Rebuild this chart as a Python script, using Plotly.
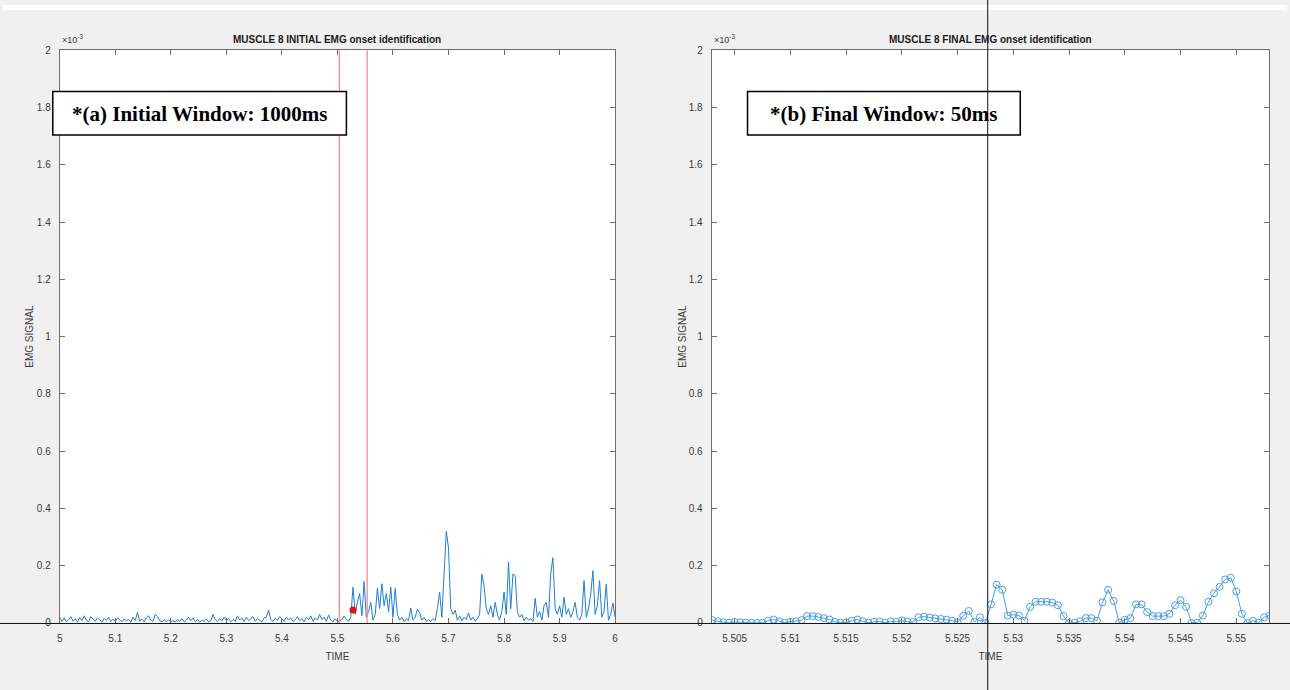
import numpy as np
import plotly.graph_objects as go

W, H = 1290, 690

# ---- initial 1000 ms window: EMG samples (units of 1e-3), step 0.004 s from 5.000 s ----
init_t0 = 5.0
init_dt = 0.004
init_emg = [
    # 5.0 - 5.1
    0.020, 0.005, 0.018, 0.004, 0.012, 0.022, 0.006, 0.015, 0.003, 0.019, 0.008, 0.025, 0.010,
    0.004, 0.022, 0.015, 0.006, 0.018, 0.012, 0.003, 0.016, 0.009, 0.020, 0.005, 0.014,
    # 5.1 - 5.2
    0.006, 0.018, 0.010, 0.004, 0.015, 0.007, 0.012, 0.003, 0.020, 0.009, 0.037, 0.006, 0.014,
    0.004, 0.018, 0.025, 0.010, 0.006, 0.030, 0.022, 0.008, 0.004, 0.012, 0.005, 0.010,
    # 5.2 - 5.3
    0.004, 0.009, 0.003, 0.012, 0.006, 0.015, 0.004, 0.010, 0.020, 0.008, 0.018, 0.005, 0.012,
    0.003, 0.009, 0.006, 0.014, 0.004, 0.008, 0.030, 0.012, 0.005, 0.016, 0.007, 0.020,
    # 5.3 - 5.4
    0.008, 0.015, 0.004, 0.012, 0.006, 0.025, 0.010, 0.018, 0.005, 0.020, 0.008, 0.014, 0.022,
    0.006, 0.015, 0.010, 0.004, 0.018, 0.020, 0.045, 0.012, 0.006, 0.016, 0.010, 0.022,
    # 5.4 - 5.5
    0.015, 0.006, 0.020, 0.010, 0.018, 0.005, 0.012, 0.022, 0.008, 0.016, 0.004, 0.020, 0.012,
    0.025, 0.006, 0.018, 0.010, 0.030, 0.012, 0.020, 0.006, 0.028, 0.010, 0.004, 0.015,
    # 5.5 - 5.6
    0.005, 0.008, 0.012, 0.024, 0.012, 0.006, 0.020, 0.125, 0.030, 0.074, 0.103, 0.025, 0.145,
    0.020, 0.040, 0.072, 0.010, 0.030, 0.121, 0.050, 0.137, 0.060, 0.103, 0.040, 0.125,
    # 5.6 - 5.7
    0.020, 0.121, 0.030, 0.010, 0.020, 0.005, 0.015, 0.008, 0.052, 0.010, 0.020, 0.048, 0.035,
    0.010, 0.020, 0.006, 0.012, 0.005, 0.015, 0.008, 0.050, 0.108, 0.020, 0.200, 0.320,
    # 5.7 - 5.8
    0.262, 0.050, 0.030, 0.045, 0.010, 0.025, 0.008, 0.020, 0.012, 0.035, 0.010, 0.020, 0.006,
    0.015, 0.030, 0.171, 0.130, 0.050, 0.030, 0.060, 0.020, 0.072, 0.030, 0.010, 0.040,
    # 5.8 - 5.9
    0.108, 0.030, 0.213, 0.050, 0.171, 0.165, 0.040, 0.020, 0.030, 0.008, 0.020, 0.010, 0.015,
    0.005, 0.086, 0.020, 0.040, 0.010, 0.060, 0.072, 0.020, 0.171, 0.228, 0.050, 0.030,
    # 5.9 - 6.0
    0.060, 0.020, 0.090, 0.030, 0.050, 0.020, 0.040, 0.072, 0.020, 0.010, 0.030, 0.148, 0.020,
    0.050, 0.100, 0.183, 0.030, 0.060, 0.148, 0.020, 0.040, 0.136, 0.010, 0.030, 0.070,
    # 6.0
    0.020,
]
init_time = [init_t0 + i * init_dt for i in range(len(init_emg))]

# window limits and onset estimate from the initial pass
window_edges = [5.5035, 5.5535]
onset_time = [5.528]
onset_emg = [0.045]

# ---- final 50 ms window: EMG samples (units of 1e-3), step 0.0005 s from 5.503 s ----
final_t0 = 5.503
final_dt = 0.0005
final_emg = [
    0.010, 0.006, 0.002, 0.001, 0.004, 0.002, 0.001, 0.001, 0.000, 0.001,
    0.008, 0.012, 0.006, 0.001, 0.004, 0.006, 0.010, 0.024, 0.024, 0.021,
    0.017, 0.012, 0.004, 0.001, 0.002, 0.008, 0.012, 0.006, 0.001, 0.004,
    0.005, 0.001, 0.006, 0.004, 0.009, 0.005, 0.003, 0.020, 0.022, 0.019,
    0.016, 0.014, 0.012, 0.008, 0.003, 0.025, 0.042, 0.004, 0.020, 0.000,
    0.065, 0.134, 0.116, 0.026, 0.029, 0.026, 0.008, 0.056, 0.074, 0.074,
    0.074, 0.071, 0.062, 0.024, 0.000, 0.001, 0.006, 0.017, 0.017, 0.008,
    0.072, 0.116, 0.077, 0.001, 0.011, 0.017, 0.065, 0.065, 0.038, 0.024,
    0.024, 0.024, 0.032, 0.062, 0.080, 0.056, 0.000, 0.001, 0.026, 0.074,
    0.104, 0.126, 0.152, 0.158, 0.110, 0.032, 0.000, 0.008, 0.001, 0.020,
    0.026,
]
final_time = [final_t0 + i * final_dt for i in range(len(final_emg))]
final_onset = 5.5277

# tick labels
y_ticks = [0, 0.2, 0.4, 0.6, 0.8, 1.0, 1.2, 1.4, 1.6, 1.8, 2.0]
y_ticktext = ["0", "0.2", "0.4", "0.6", "0.8", "1", "1.2", "1.4", "1.6", "1.8", "2"]
x1_ticks = [5.0, 5.1, 5.2, 5.3, 5.4, 5.5, 5.6, 5.7, 5.8, 5.9, 6.0]
x1_ticktext = ["5", "5.1", "5.2", "5.3", "5.4", "5.5", "5.6", "5.7", "5.8", "5.9", "6"]
x2_ticks = [5.505, 5.51, 5.515, 5.52, 5.525, 5.53, 5.535, 5.54, 5.545, 5.55]
x2_ticktext = ["5.505", "5.51", "5.515", "5.52", "5.525", "5.53", "5.535", "5.54", "5.545", "5.55"]

BLUE = "#1f7fcf"
LIGHT_BLUE = "#4aa0e0"
AXC = "#6e6e6e"
TXT = "#3a3a3a"
FONT = "Liberation Sans"


def px_x(p):
    return p / W


def px_y(p):
    return 1 - p / H


fig = go.Figure()

fig.add_trace(go.Scatter(x=init_time, y=init_emg, mode="lines",
                         line=dict(color=BLUE, width=1), xaxis="x", yaxis="y",
                         showlegend=False, hoverinfo="skip"))
for t in window_edges:
    fig.add_trace(go.Scatter(x=[t, t], y=[0, 2], mode="lines",
                             line=dict(color="#f48a8a", width=1.3), xaxis="x", yaxis="y",
                             showlegend=False, hoverinfo="skip"))
fig.add_trace(go.Scatter(x=onset_time, y=onset_emg, mode="markers",
                         marker=dict(color="#e8101a", size=7), xaxis="x", yaxis="y",
                         showlegend=False, hoverinfo="skip"))

fig.add_trace(go.Scatter(x=final_time, y=final_emg, mode="lines+markers",
                         line=dict(color=LIGHT_BLUE, width=1),
                         marker=dict(symbol="circle-open", size=7, color=LIGHT_BLUE,
                                     line=dict(width=1)),
                         xaxis="x2", yaxis="y2", showlegend=False, hoverinfo="skip"))

axis_common = dict(showline=True, linecolor=AXC, linewidth=1, mirror="ticks",
                   ticks="inside", ticklen=5, tickcolor=AXC, showgrid=False,
                   zeroline=False, tickfont=dict(family=FONT, size=10, color=TXT))
title_font = dict(family=FONT, size=10, color=TXT)

fig.update_layout(
    width=W, height=H,
    margin=dict(l=0, r=0, t=0, b=0),
    paper_bgcolor="#f0f0f0",
    plot_bgcolor="white",
    xaxis=dict(domain=[px_x(57), px_x(615)], range=[5.0, 6.0], anchor="y",
               tickvals=x1_ticks, ticktext=x1_ticktext, ticklabelstandoff=6,
               title=dict(text="TIME", font=title_font, standoff=10),
               **axis_common),
    yaxis=dict(domain=[px_y(628), px_y(46)], range=[0, 2], anchor="x",
               tickvals=y_ticks, ticktext=y_ticktext, ticklabelstandoff=6,
               title=dict(text="EMG SIGNAL", font=title_font, standoff=1),
               **axis_common),
    xaxis2=dict(domain=[px_x(712), px_x(1272)], range=[5.50294, 5.55294], anchor="y2",
                tickvals=x2_ticks, ticktext=x2_ticktext, ticklabelstandoff=6,
                title=dict(text="TIME", font=title_font, standoff=10),
                **axis_common),
    yaxis2=dict(domain=[px_y(628), px_y(46)], range=[0, 2], anchor="x2",
                tickvals=y_ticks, ticktext=y_ticktext, ticklabelstandoff=6,
                title=dict(text="EMG SIGNAL", font=title_font, standoff=0),
                **axis_common),
)

annotations = []
# panel titles
for cx, txt in [((57 + 615) / 2, "MUSCLE 8 INITIAL EMG onset identification"),
                ((712 + 1272) / 2, "MUSCLE 8 FINAL EMG onset identification")]:
    annotations.append(dict(xref="paper", yref="paper", x=px_x(cx), y=px_y(35),
                            text="<b>" + txt + "</b>", showarrow=False,
                            font=dict(family=FONT, size=10, color="#1a1a1a"),
                            xanchor="center", yanchor="middle"))
# exponent labels
for lx in [57, 712]:
    annotations.append(dict(xref="paper", yref="paper", x=px_x(lx), y=px_y(43),
                            text="\u00d710<sup>-3</sup>", showarrow=False,
                            font=dict(family=FONT, size=9, color=TXT),
                            xanchor="left", yanchor="bottom"))
# window labels (boxes are drawn as shapes below)
boxes = [(50, 345, "*(a) Initial Window: 1000ms"), (748, 1022, "*(b) Final Window: 50ms")]
for x0, x1, txt in boxes:
    annotations.append(dict(xref="paper", yref="paper", x=px_x((x0 + x1) / 2), y=px_y(111),
                            text="<b>" + txt + "</b>", showarrow=False,
                            font=dict(family="Liberation Serif", size=21, color="black"),
                            xanchor="center", yanchor="middle"))
fig.update_layout(annotations=annotations)

# thin white strip along the top edge, label boxes and the full-size cursor crosshair
shapes = [
    dict(type="rect", xref="paper", yref="paper", x0=0, x1=1, y0=px_y(5), y1=1,
         fillcolor="white", line=dict(width=0), layer="below"),
]
for x0, x1, _ in boxes:
    shapes.append(dict(type="rect", xref="paper", yref="paper",
                       x0=px_x(x0), x1=px_x(x1), y0=px_y(132), y1=px_y(88),
                       fillcolor="white", line=dict(color="black", width=1.5), layer="above"))
shapes += [
    dict(type="line", xref="paper", yref="paper", x0=-0.01, x1=1.01, y0=px_y(628.5), y1=px_y(628.5),
         line=dict(color="#111111", width=1)),
    dict(type="line", xref="x2", yref="paper", x0=final_onset, x1=final_onset, y0=-0.02, y1=1.02,
         line=dict(color="#111111", width=1)),
]
fig.update_layout(shapes=shapes)

fig.write_html("out.html")
